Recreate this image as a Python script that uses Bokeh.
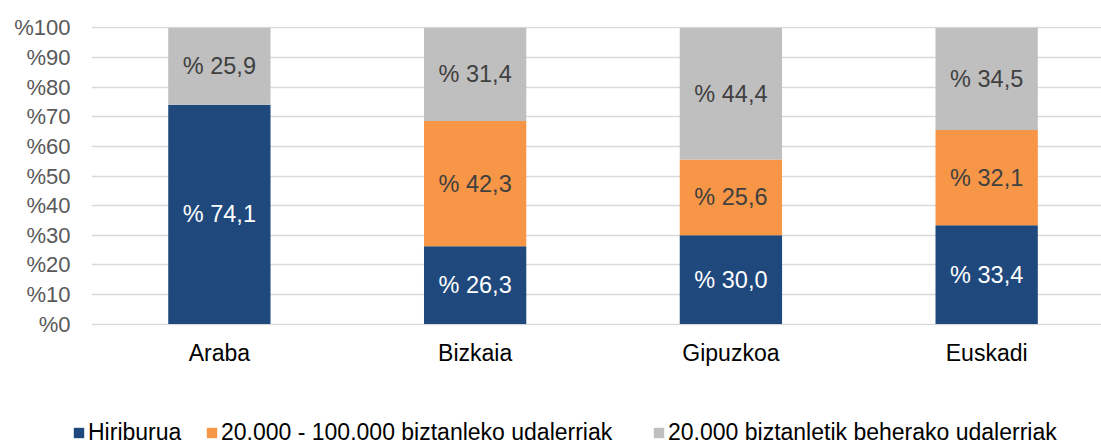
from bokeh.plotting import figure
from bokeh.layouts import column
from bokeh.models import ColumnDataSource, Range1d, FixedTicker, Legend, LegendItem
from bokeh.core.properties import value
from bokeh.embed import file_html
from bokeh.resources import INLINE

categories = ["Araba", "Bizkaia", "Gipuzkoa", "Euskadi"]
hiriburua = [74.1, 26.3, 30.0, 33.4]
ertaina = [0.0, 42.3, 25.6, 32.1]
txikiak = [25.9, 31.4, 44.4, 34.5]
series_names = ["Hiriburua", "20.000 - 100.000 biztanleko udalerriak",
                "20.000 biztanletik beherako udalerriak"]
y_ticks = list(range(0, 101, 10))
y_tick_labels = ["%" + str(t) for t in y_ticks]

colors = ["#1F497D", "#F79646", "#BFBFBF"]
label_colors = ["#FFFFFF", "#404040", "#404040"]
FONT = "Liberation Sans"

xs = list(range(len(categories)))
src = ColumnDataSource(dict(x=xs, s0=hiriburua, s1=ertaina, s2=txikiak))

p = figure(width=1101, height=394, output_backend="svg", toolbar_location=None,
           x_range=Range1d(-0.5, 3.449), y_range=Range1d(-0.5, 100.5),
           min_border_left=91, min_border_right=0, min_border_top=26,
           min_border_bottom=69)
p.frame_align = False
p.outline_line_color = None
p.background_fill_color = "white"

rs = p.vbar_stack(["s0", "s1", "s2"], x="x", width=0.4, source=src,
                  color=colors, line_color=None)

# data labels
all_series = [hiriburua, ertaina, txikiak]
for i, vals in enumerate(all_series):
    lx, ly, lt = [], [], []
    for j, v in enumerate(vals):
        if v <= 0:
            continue
        base = sum(all_series[k][j] for k in range(i))
        lx.append(xs[j])
        ly.append(base + v / 2)
        lt.append("% " + f"{v:.1f}".replace(".", ","))
    p.text(x=lx, y=ly, text=lt, text_align="center", text_baseline="middle",
           text_font=value(FONT), text_font_size="23.5px", text_color=label_colors[i])

# axes
p.yaxis.ticker = FixedTicker(ticks=y_ticks)
p.yaxis.major_label_overrides = {t: l for t, l in zip(y_ticks, y_tick_labels)}
p.yaxis.axis_line_color = None
p.yaxis.major_tick_line_color = None
p.yaxis.minor_tick_line_color = None
p.yaxis.major_tick_out = 0
p.yaxis.major_label_standoff = 21
p.yaxis.major_label_text_font = FONT
p.yaxis.major_label_text_font_size = "22px"
p.yaxis.major_label_text_color = "#595959"

p.xaxis.ticker = FixedTicker(ticks=xs)
p.xaxis.major_label_overrides = {x: c for x, c in zip(xs, categories)}
p.xaxis.axis_line_color = None
p.xaxis.major_tick_line_color = None
p.xaxis.minor_tick_line_color = None
p.xaxis.major_tick_out = 0
p.xaxis.major_label_standoff = 14
p.xaxis.major_label_text_font = FONT
p.xaxis.major_label_text_font_size = "23px"
p.xaxis.major_label_text_color = "#000000"

p.xgrid.grid_line_color = None
p.ygrid.grid_line_color = "#D9D9D9"
p.ygrid.grid_line_width = 1.5

# legend strip (separate figure so the legend is not clipped by the main frame)
lg = figure(width=1101, height=50, output_backend="svg", toolbar_location=None,
            x_range=Range1d(10, 11), y_range=Range1d(0, 1),
            x_axis_type=None, y_axis_type=None,
            min_border_left=0, min_border_right=0, min_border_top=0, min_border_bottom=0)
lg.frame_align = False
lg.outline_line_color = None
lg.xgrid.grid_line_color = None
lg.ygrid.grid_line_color = None
# zero-size proxies (outside the visible range) that carry the legend colours
proxies = [lg.vbar(x="x", top=0, bottom=0, width=0, source=src, color=c, line_color=None)
           for c in colors]
legend_x = [72, 205, 652]
for name, r, lx in zip(series_names, proxies, legend_x):
    leg = Legend(items=[LegendItem(label=name, renderers=[r], index=0)],
                 orientation="horizontal", location=(lx, -2),
                 glyph_width=13, glyph_height=13, label_standoff=3, spacing=0,
                 padding=0, margin=0, border_line_color=None, background_fill_alpha=0,
                 label_text_font=FONT, label_text_font_size="23px",
                 label_text_color="#000000")
    lg.add_layout(leg, "center")

layout = column(p, lg, spacing=0)
open("out.html", "w").write(file_html(layout, INLINE))
